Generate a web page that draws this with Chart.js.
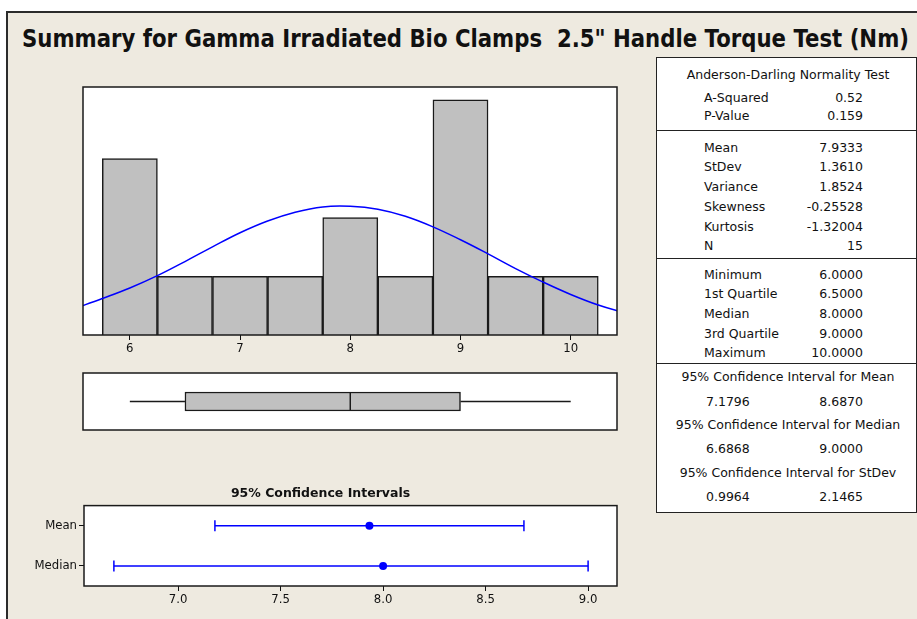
<!DOCTYPE html>
<html><head><meta charset="utf-8">
<script src="https://cdn.jsdelivr.net/npm/chart.js@4.4.1/dist/chart.umd.min.js"></script>
<style>
html,body{margin:0;padding:0;background:#fff;width:917px;height:619px;overflow:hidden;position:relative;font-family:'DejaVu Sans',sans-serif;}
#frame{position:absolute;left:6px;top:11px;width:940px;height:640px;background:#EEEAE0;border-left:2px solid #2b2b2b;border-top:2px solid #2b2b2b;}
#title{position:absolute;left:22px;top:25px;font:bold 24px 'DejaVu Sans',sans-serif;white-space:nowrap;transform-origin:0 0;color:#111;line-height:28px;}
.cv{position:absolute;}
#stats{position:absolute;left:656px;top:57px;width:261px;height:456px;box-sizing:border-box;background:#fff;border:1.5px solid #222;z-index:5;}
.hl{position:absolute;left:656px;width:261px;height:0;border-top:1.5px solid #222;z-index:6;}
.st{position:absolute;font:12.5px 'DejaVu Sans',sans-serif;color:#111;line-height:16px;height:16px;white-space:nowrap;z-index:7;}
</style></head>
<body>
<div id="frame"></div>
<div id="title">Summary for Gamma Irradiated Bio Clamps&nbsp; 2.5" Handle Torque Test (Nm)</div>
<canvas id="hist" class="cv" width="544" height="283" style="left:78px;top:82px"></canvas>
<canvas id="box" class="cv" width="544" height="67" style="left:78px;top:368px"></canvas>
<canvas id="ci" class="cv" width="653" height="139" style="left:24px;top:480px"></canvas>
<div id="stats"></div>
<script>
// ---- data ----
const histBins   = [6, 6.5, 7, 7.5, 8, 8.5, 9, 9.5, 10];
const histCounts = [3, 1, 1, 1, 2, 1, 4, 1, 1];
const histTicks  = [6, 7, 8, 9, 10];
const curveX = [5.5,5.75,6,6.25,6.5,6.75,7,7.25,7.5,7.75,8,8.25,8.5,8.75,9,9.25,9.5,9.75,10,10.25,10.5];
const curveY = [0.45,0.62,0.80,1.01,1.25,1.50,1.74,1.94,2.09,2.18,2.19,2.14,2.02,1.84,1.62,1.38,1.13,0.90,0.69,0.51,0.37];
const boxMin = 6, boxQ1 = 6.5, boxMedian = 8, boxQ3 = 9, boxMax = 10;
const ciCategories = ['Mean', 'Median'];
const ciLower  = [7.1796, 6.6868];
const ciUpper  = [8.6870, 9.0000];
const ciCenter = [7.9333, 8.0000];
const ciTicks  = [7.0, 7.5, 8.0, 8.5, 9.0];
const adLabels = ['A-Squared', 'P-Value'];
const adValues = ['0.52', '0.159'];
const descLabels = ['Mean', 'StDev', 'Variance', 'Skewness', 'Kurtosis', 'N'];
const descValues = ['7.9333', '1.3610', '1.8524', '-0.25528', '-1.32004', '15'];
const quartLabels = ['Minimum', '1st Quartile', 'Median', '3rd Quartile', 'Maximum'];
const quartValues = ['6.0000', '6.5000', '8.0000', '9.0000', '10.0000'];
const ciTitles = ['95% Confidence Interval for Mean', '95% Confidence Interval for Median', '95% Confidence Interval for StDev'];
const ciLows  = ['7.1796', '6.6868', '0.9964'];
const ciHighs = ['8.6870', '9.0000', '2.1465'];

const X_MIN = 5.575, X_MAX = 10.42;

// ---- title fit ----
const t = document.getElementById('title');
t.style.transform = 'scaleX(' + (887 / t.getBoundingClientRect().width) + ')';

// ---- stats panel ----
function txt(s, x, yc, align) {
  const d = document.createElement('div');
  d.className = 'st'; d.textContent = s; d.style.top = (yc - 8) + 'px';
  document.body.appendChild(d);
  const w = d.getBoundingClientRect().width;
  if (align === 'left') d.style.left = x + 'px';
  else if (align === 'right') d.style.left = (x - w) + 'px';
  else d.style.left = (x - w / 2) + 'px';
}
function hline(y) { const d = document.createElement('div'); d.className = 'hl'; d.style.top = y + 'px'; document.body.appendChild(d); }
const LX = 704, RX = 863, CX = 788;
txt('Anderson-Darling Normality Test', CX, 75, 'center');
[98, 116].forEach((y, i) => { txt(adLabels[i], LX, y, 'left'); txt(adValues[i], RX, y, 'right'); });
hline(130);
[148, 167, 187, 207, 227, 246].forEach((y, i) => { txt(descLabels[i], LX, y, 'left'); txt(descValues[i], RX, y, 'right'); });
hline(258);
[275, 294, 314, 334, 353].forEach((y, i) => { txt(quartLabels[i], LX, y, 'left'); txt(quartValues[i], RX, y, 'right'); });
hline(363);
[[377, 402], [425, 449], [473, 497]].forEach((p, i) => {
  txt(ciTitles[i], CX, p[0], 'center');
  txt(ciLows[i], 706, p[1], 'left'); txt(ciHighs[i], RX, p[1], 'right');
});

// ---- shared plugin: white plot area + frame ----
const framePlugin = {
  id: 'frame',
  beforeDraw(c) { const a = c.chartArea, x = c.ctx; x.save(); x.fillStyle = '#fff'; x.fillRect(a.left, a.top, a.right - a.left, a.bottom - a.top); x.restore(); },
  afterDraw(c) { const a = c.chartArea, x = c.ctx; x.save(); x.strokeStyle = '#1a1a1a'; x.lineWidth = 1.5; x.strokeRect(a.left, a.top, a.right - a.left, a.bottom - a.top); x.restore(); }
};
const tickFont = { family: "'DejaVu Sans Condensed', 'DejaVu Sans', sans-serif", size: 13 };
Chart.defaults.color = '#111';

// ---- histogram ----
new Chart(document.getElementById('hist'), {
  type: 'bar',
  data: { datasets: [
    { type: 'line', order: 0, data: curveX.map((x, i) => ({ x, y: curveY[i] })), borderColor: '#0000FF', borderWidth: 1.5, pointRadius: 0, tension: 0.4, fill: false },
    { type: 'bar', order: 1, data: histBins.map((x, i) => ({ x, y: histCounts[i] })), backgroundColor: '#C0C0C0', borderColor: '#1a1a1a', borderWidth: 1.5, barPercentage: 1, categoryPercentage: 1 }
  ]},
  options: {
    responsive: false, animation: false, devicePixelRatio: 1,
    layout: { padding: { left: 5, right: 5, top: 5, bottom: 0 } },
    plugins: { legend: { display: false }, tooltip: { enabled: false } },
    scales: {
      x: { type: 'linear', min: X_MIN, max: X_MAX, offset: false,
           afterBuildTicks: s => { s.ticks = histTicks.map(v => ({ value: v })); },
           afterFit: s => { s.height = 30; },
           grid: { offset: false, drawOnChartArea: false, color: '#111', tickLength: 5 }, border: { display: false },
           ticks: { font: tickFont, color: '#111', padding: 1, callback: v => String(v) } },
      y: { display: false, min: 0, max: 4.22 }
    }
  },
  plugins: [framePlugin]
});

// ---- boxplot ----
const medianPlugin = {
  id: 'median',
  afterDatasetsDraw(c) {
    const el = c.getDatasetMeta(0).data[0]; const p = el.getProps(['y', 'height'], true);
    const xp = c.scales.x.getPixelForValue(boxMedian), x = c.ctx;
    x.save(); x.strokeStyle = '#1a1a1a'; x.lineWidth = 1.5; x.beginPath();
    x.moveTo(xp, p.y - p.height / 2); x.lineTo(xp, p.y + p.height / 2); x.stroke(); x.restore();
  }
};
new Chart(document.getElementById('box'), {
  type: 'bar',
  data: { datasets: [
    { type: 'bar', data: [{ x: [boxQ1, boxQ3], y: 0.5 }], backgroundColor: '#C0C0C0', borderColor: '#1a1a1a', borderWidth: 1.5, borderSkipped: false, barThickness: 19 },
    { type: 'line', data: [{ x: boxMin, y: 0.5 }, { x: boxQ1, y: 0.5 }], borderColor: '#1a1a1a', borderWidth: 1.3, pointRadius: 0 },
    { type: 'line', data: [{ x: boxQ3, y: 0.5 }, { x: boxMax, y: 0.5 }], borderColor: '#1a1a1a', borderWidth: 1.3, pointRadius: 0 }
  ]},
  options: {
    indexAxis: 'y', responsive: false, animation: false, devicePixelRatio: 1,
    layout: { padding: 5 },
    plugins: { legend: { display: false }, tooltip: { enabled: false } },
    scales: { x: { type: 'linear', display: false, min: X_MIN, max: X_MAX, offset: false }, y: { type: 'linear', display: false, min: 0, max: 1, offset: false } }
  },
  plugins: [framePlugin, medianPlugin]
});

// ---- confidence intervals ----
const ciSets = [];
ciCategories.forEach((cat, i) => {
  ciSets.push({ data: [{ x: ciLower[i], y: cat }, { x: ciUpper[i], y: cat }], borderColor: '#0000FF', borderWidth: 1.5,
    pointStyle: 'line', pointRotation: 90, pointRadius: 5.5, pointBorderColor: '#0000FF', pointBorderWidth: 1.5 });
  ciSets.push({ data: [{ x: ciCenter[i], y: cat }], showLine: false, pointStyle: 'circle', pointRadius: 4,
    pointBackgroundColor: '#0000FF', pointBorderColor: '#0000FF', pointBorderWidth: 0 });
});
new Chart(document.getElementById('ci'), {
  type: 'line',
  data: { labels: ciCategories, datasets: ciSets },
  options: {
    responsive: false, animation: false, devicePixelRatio: 1,
    layout: { padding: { left: 0, right: 60, top: 0, bottom: 0 } },
    plugins: { legend: { display: false }, tooltip: { enabled: false },
      title: { display: true, text: '95% Confidence Intervals', color: '#111', font: { family: "'DejaVu Sans', sans-serif", size: 12.5, weight: 'bold' }, padding: { top: 6, bottom: 4.6 } } },
    scales: {
      x: { type: 'linear', min: 6.541, max: 9.141, afterBuildTicks: s => { s.ticks = ciTicks.map(v => ({ value: v })); },
           afterFit: s => { s.height = 33; },
           grid: { drawOnChartArea: false, color: '#111', tickLength: 5 }, border: { display: false },
           ticks: { font: tickFont, color: '#111', padding: 1, callback: v => Number(v).toFixed(1) } },
      y: { type: 'category', labels: ciCategories, offset: true, afterFit: s => { s.width = 60; },
           grid: { drawOnChartArea: false, color: '#111', tickLength: 5 }, border: { display: false },
           ticks: { font: tickFont, color: '#111', padding: 2 } }
    }
  },
  plugins: [framePlugin]
});
</script>
</body></html>
